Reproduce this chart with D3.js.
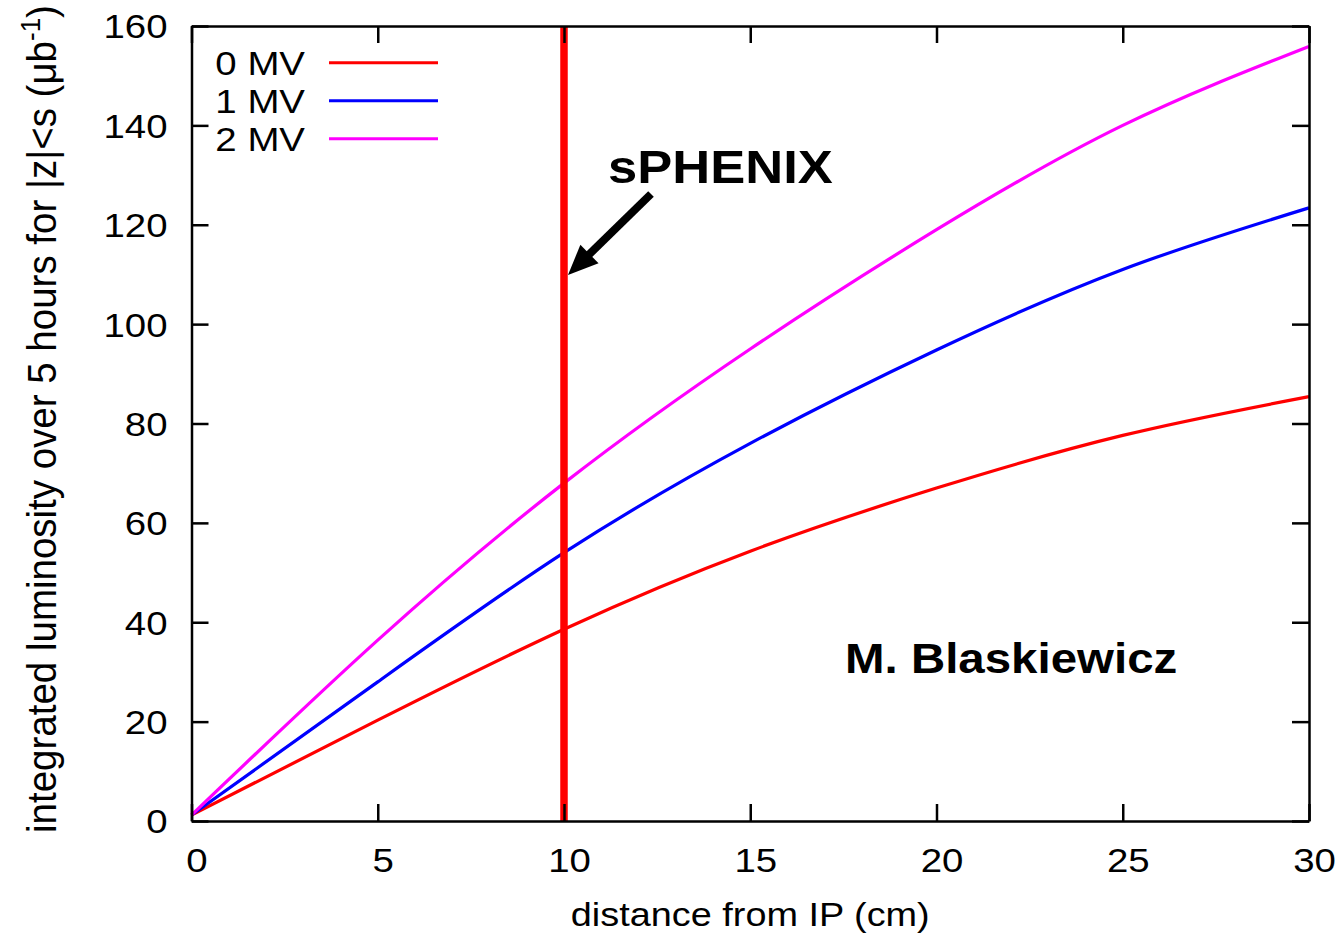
<!DOCTYPE html>
<html>
<head>
<meta charset="utf-8">
<script src="https://cdn.jsdelivr.net/npm/d3@7"></script>
<style>
  body { margin: 0; background: #fff; }
  text { font-family: "Liberation Sans", Arial, sans-serif; fill: #000; }
</style>
</head>
<body>
<div id="root"></div>
<script>
// distance from IP (cm)
const distances = [0, 5, 10, 15, 20, 25, 30];
// integrated luminosity
const lumi0MV = [1.2, 20.3, 38.6, 54.3, 67.0, 77.6, 85.4];
const lumi1MV = [1.2, 28.0, 54.0, 76.0, 94.8, 111.0, 123.4];
const lumi2MV = [1.2, 36.4, 68.0, 95.0, 119.0, 140.0, 155.9];
const seriesNames = ["0 MV", "1 MV", "2 MV"];
const seriesColors = ["#ff0000", "#0000ff", "#ff00ff"];
const xTicks = [0, 5, 10, 15, 20, 25, 30];
const yTicks = [0, 20, 40, 60, 80, 100, 120, 140, 160];
const markerX = 10;

const W = 1341, H = 937;
const margin = { top: 26, right: 32, bottom: 116, left: 191.5 };
const width = W - margin.left - margin.right;
const height = H - margin.top - margin.bottom;
const sx = 1.13; // the picture is stretched sideways

const svg = d3.select("#root").append("svg")
  .attr("width", W)
  .attr("height", H);

const g = svg.append("g")
  .attr("transform", "translate(" + margin.left + "," + margin.top + ")");

const x = d3.scaleLinear().domain([0, 30]).range([0, width]);
const y = d3.scaleLinear().domain([0, 160]).range([height, 0]);

const series = [lumi0MV, lumi1MV, lumi2MV].map((vals, i) => ({
  name: seriesNames[i],
  color: seriesColors[i],
  values: vals.map((v, j) => ({ d: distances[j], v: v }))
}));

const line = d3.line()
  .x(d => x(d.d))
  .y(d => y(d.v))
  .curve(d3.curveNatural);

g.selectAll(".curve")
  .data(series)
  .enter().append("path")
  .attr("class", "curve")
  .attr("d", d => line(d.values))
  .attr("fill", "none")
  .attr("stroke", d => d.color)
  .attr("stroke-width", 3.2);

// sPHENIX marker line
g.append("line")
  .attr("x1", x(markerX)).attr("x2", x(markerX))
  .attr("y1", y(0)).attr("y2", y(160))
  .attr("stroke", "#ff0000")
  .attr("stroke-width", 7.5);

// axes, ticks pointing inward on all four sides
const tick = 17;
const bottomAxis = g.append("g")
  .attr("transform", "translate(0," + height + ")")
  .call(d3.axisBottom(x).tickValues(xTicks).tickSize(-tick).tickSizeOuter(0));
const topAxis = g.append("g")
  .call(d3.axisTop(x).tickValues(xTicks).tickSize(-tick).tickSizeOuter(0).tickFormat(""));
const leftAxis = g.append("g")
  .call(d3.axisLeft(y).tickValues(yTicks).tickSize(-tick).tickSizeOuter(0));
const rightAxis = g.append("g")
  .attr("transform", "translate(" + width + ",0)")
  .call(d3.axisRight(y).tickValues(yTicks).tickSize(-tick).tickSizeOuter(0).tickFormat(""));

g.selectAll(".domain, .tick line")
  .attr("stroke", "#000")
  .attr("stroke-width", 2.5);

bottomAxis.selectAll("text")
  .attr("font-size", 34)
  .attr("y", 0)
  .attr("dy", 0)
  .attr("transform", "translate(5,51) scale(" + sx + ",1)")
  .attr("fill", "#000");

leftAxis.selectAll("text")
  .attr("font-size", 34)
  .attr("x", 0)
  .attr("dy", "0.35em")
  .attr("transform", "translate(-24,0) scale(" + sx + ",1)")
  .attr("fill", "#000");

// stretched text helper
const label = (px, py, txt, size, weight, anchor) =>
  svg.append("text")
    .attr("transform", "translate(" + px + "," + py + ") scale(" + sx + ",1)")
    .attr("font-size", size)
    .attr("font-weight", weight || "normal")
    .attr("text-anchor", anchor || "start")
    .text(txt);

// axis titles
label(margin.left + width / 2, 926, "distance from IP (cm)", 33.5, "normal", "middle");

const yt = svg.append("text")
  .attr("transform", "translate(56,419) scale(1.06,1) rotate(-90)")
  .attr("font-size", 38.5)
  .attr("text-anchor", "middle");
yt.append("tspan").text("integrated luminosity over 5 hours for |z|<s (\u03bcb");
yt.append("tspan").attr("font-size", 26).attr("dy", -15).text("-1");
yt.append("tspan").attr("dy", 15).text(")");

// legend
const legend = svg.append("g");
series.forEach((s, i) => {
  const ly = 62.7 + i * 38;
  legend.append("line")
    .attr("x1", 329).attr("x2", 438)
    .attr("y1", ly).attr("y2", ly)
    .attr("stroke", s.color)
    .attr("stroke-width", 3);
  label(305, ly + 12, s.name, 34, "normal", "end");
});

// annotations
label(608, 183, "sPHENIX", 46.5, "bold");
label(845, 673, "M. Blaskiewicz", 42, "bold");

// arrow pointing at the marker line
const ax0 = 651, ay0 = 194;
const ax1 = x(markerX) + margin.left + 4, ay1 = 275;
const ang = Math.atan2(ay1 - ay0, ax1 - ax0);
const headLen = 30, headHalf = 13;
const bx = ax1 - headLen * Math.cos(ang), by = ay1 - headLen * Math.sin(ang);
svg.append("line")
  .attr("x1", ax0).attr("y1", ay0)
  .attr("x2", bx + 4 * Math.cos(ang)).attr("y2", by + 4 * Math.sin(ang))
  .attr("stroke", "#000")
  .attr("stroke-width", 8);
svg.append("path")
  .attr("d", "M" + ax1 + "," + ay1 +
    "L" + (bx + headHalf * Math.sin(ang)) + "," + (by - headHalf * Math.cos(ang)) +
    "L" + (bx - headHalf * Math.sin(ang)) + "," + (by + headHalf * Math.cos(ang)) + "Z")
  .attr("fill", "#000");
</script>
</body>
</html>
